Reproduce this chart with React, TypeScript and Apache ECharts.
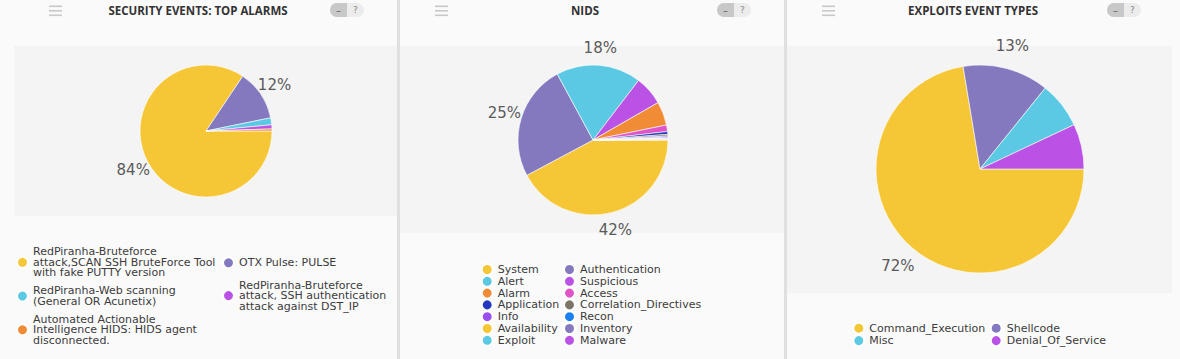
import React, { useEffect, useRef } from 'react';
import * as echarts from 'echarts';

const panelTitles = ['SECURITY EVENTS: TOP ALARMS', 'NIDS', 'EXPLOITS EVENT TYPES'];

// Panel 1: Security events top alarms
const alarmNames = [
  'RedPiranha-Bruteforce attack,SCAN SSH BruteForce Tool with fake PUTTY version',
  'OTX Pulse: PULSE',
  'RedPiranha-Web scanning (General OR Acunetix)',
  'RedPiranha-Bruteforce attack, SSH authentication attack against DST_IP',
  'Automated Actionable Intelligence HIDS: HIDS agent disconnected.',
];
const alarmLegendText = [
  'RedPiranha-Bruteforce\nattack,SCAN SSH BruteForce Tool\nwith fake PUTTY version',
  'OTX Pulse: PULSE',
  'RedPiranha-Web scanning\n(General OR Acunetix)',
  'RedPiranha-Bruteforce\nattack, SSH authentication\nattack against DST_IP',
  'Automated Actionable\nIntelligence HIDS: HIDS agent\ndisconnected.',
];
const alarmValues = [84.4, 12.4, 1.7, 1.0, 0.5];
const alarmColors = ['#f5c636', '#8479bf', '#5bc9e3', '#bb52e6', '#f08c35'];

// Panel 2: NIDS
const nidsNames = [
  'System', 'Authentication', 'Alert', 'Suspicious', 'Alarm', 'Access', 'Application',
  'Correlation_Directives', 'Info', 'Recon', 'Availability', 'Inventory', 'Exploit', 'Malware',
];
const nidsValues = [42.2, 24.9, 18.3, 6.3, 5.1, 1.4, 0.6, 0.35, 0.25, 0.2, 0.12, 0.12, 0.1, 0.06];
const nidsColors = [
  '#f5c636', '#8479bf', '#5bc9e3', '#bb52e6', '#f08c35', '#e054c8', '#2238c0',
  '#7d7566', '#9a4ef0', '#1b7ff0', '#f5c636', '#8479bf', '#5bc9e3', '#bb52e6',
];

// Panel 3: Exploits event types
const exploitNames = ['Command_Execution', 'Shellcode', 'Misc', 'Denial_Of_Service'];
const exploitValues = [72.4, 13.4, 7.2, 7.0];
const exploitColors = ['#f5c636', '#8479bf', '#5bc9e3', '#bb52e6'];

const FONT = 'DejaVu Sans';

function mkData(names: string[], values: number[], colors: string[]) {
  return names.map((n, i) => ({ name: n, value: values[i], itemStyle: { color: colors[i] } }));
}

function pieMain(names: string[], values: number[], colors: string[], center: number[], r: number) {
  return {
    type: 'pie',
    center,
    radius: [0, r],
    startAngle: 0,
    clockwise: true,
    data: mkData(names, values, colors),
    label: { show: false },
    labelLine: { show: false },
    itemStyle: { borderColor: '#ffffff', borderWidth: 0.6 },
    emphasis: { disabled: true },
    silent: true,
    z: 3,
  };
}

function pieLabels(names: string[], values: number[], center: number[], r: number, d: number) {
  return {
    type: 'pie',
    center,
    radius: [r, r + 2 * d],
    startAngle: 0,
    clockwise: true,
    data: names.map((n, i) => ({ name: n, value: values[i] })),
    itemStyle: { color: 'rgba(0,0,0,0)', borderWidth: 0 },
    label: {
      show: true,
      position: 'inside',
      color: '#5a5a5a',
      fontFamily: FONT,
      fontSize: 15,
      formatter: (p: any) => (p.percent >= 10 ? Math.round(p.percent) + '%' : ''),
    },
    labelLine: { show: false },
    emphasis: { disabled: true },
    silent: true,
    z: 4,
  };
}

function legendCol(names: string[], left: number, top: number, gap: number, lh: number, fmt?: (n: string) => string) {
  return {
    orient: 'vertical',
    left,
    top,
    padding: 0,
    itemGap: gap,
    itemWidth: 11,
    itemHeight: 11,
    icon: 'circle',
    selectedMode: false,
    data: names,
    formatter: fmt,
    textStyle: { fontFamily: FONT, fontSize: 11, lineHeight: lh, color: '#3c3c3c' },
  };
}

function headerGraphics(hx: number, tx: number, px: number, title: string) {
  const g: any[] = [];
  [5.5, 10, 14.5].forEach((y) => {
    g.push({ type: 'rect', shape: { x: hx, y, width: 13, height: 1.6 }, style: { fill: '#c9c9c9' } });
  });
  g.push({
    type: 'text', x: tx, y: 10,
    style: { text: title, fontFamily: 'Open Sans', fontWeight: 'bold', fontSize: 11.5, fill: '#333', align: 'center', verticalAlign: 'middle' },
  });
  g.push({ type: 'rect', shape: { x: px, y: 3, width: 34, height: 14, r: 7 }, style: { fill: '#ececec' } });
  g.push({ type: 'rect', shape: { x: px, y: 3, width: 17, height: 14, r: [7, 0, 0, 7] }, style: { fill: '#c8c8c8' } });
  g.push({ type: 'text', x: px + 8.5, y: 10, style: { text: '–', fontFamily: FONT, fontSize: 10, fill: '#666', align: 'center', verticalAlign: 'middle' } });
  g.push({ type: 'text', x: px + 25.5, y: 10, style: { text: '?', fontFamily: FONT, fontSize: 9, fill: '#888', align: 'center', verticalAlign: 'middle' } });
  return g;
}

export default function App() {
  const ref = useRef<HTMLDivElement>(null);
  useEffect(() => {
    document.body.style.margin = '0';
    const chart = echarts.init(ref.current!, null, { renderer: 'svg' });
    const alarmFmt = (n: string) => alarmLegendText[alarmNames.indexOf(n)] ?? n;
    const even = (a: string[]) => a.filter((_, i) => i % 2 === 0);
    const odd = (a: string[]) => a.filter((_, i) => i % 2 === 1);

    const graphics: any[] = [
      { type: 'rect', shape: { x: 14, y: 46, width: 383, height: 170 }, style: { fill: '#f4f4f4' } },
      { type: 'rect', shape: { x: 400, y: 46, width: 384, height: 187 }, style: { fill: '#f4f4f4' } },
      { type: 'rect', shape: { x: 787, y: 46, width: 385, height: 247 }, style: { fill: '#f4f4f4' } },
      { type: 'rect', shape: { x: 397, y: 0, width: 3, height: 359 }, style: { fill: '#e0e0e0' } },
      { type: 'rect', shape: { x: 784, y: 0, width: 3, height: 359 }, style: { fill: '#e0e0e0' } },
      ...headerGraphics(49, 198, 330, panelTitles[0]),
      ...headerGraphics(435, 585, 717, panelTitles[1]),
      ...headerGraphics(822, 973, 1107, panelTitles[2]),
    ];

    chart.setOption({
      animation: false,
      backgroundColor: '#fafafa',
      graphic: { elements: graphics },
      legend: [
        legendCol(even(alarmNames), 16, 246.3, 7, 10.5, alarmFmt),
        legendCol(odd(alarmNames), 222, 256.3, 10.3, 10.5, alarmFmt),
        legendCol(even(nidsNames), 480.7, 263, -1.2, 11),
        legendCol(odd(nidsNames), 563, 263, -1.2, 11),
        legendCol(even(exploitNames), 852.3, 321.7, -0.6, 11),
        legendCol(odd(exploitNames), 989.7, 321.7, -0.6, 11),
      ],
      series: [
        pieMain(alarmNames, alarmValues, alarmColors, [206, 131], 66),
        pieMain(nidsNames, nidsValues, nidsColors, [593, 140], 75),
        pieMain(exploitNames, exploitValues, exploitColors, [980, 169], 104),
        pieLabels(alarmNames, alarmValues, [206, 131], 66, 13.5),
        pieLabels(nidsNames, nidsValues, [593, 140], 75, 14.5),
        pieLabels(exploitNames, exploitValues, [980, 169], 104, 20),
      ],
    });
    return () => chart.dispose();
  }, []);
  return <div ref={ref} style={{ width: 1180, height: 359 }} />;
}
